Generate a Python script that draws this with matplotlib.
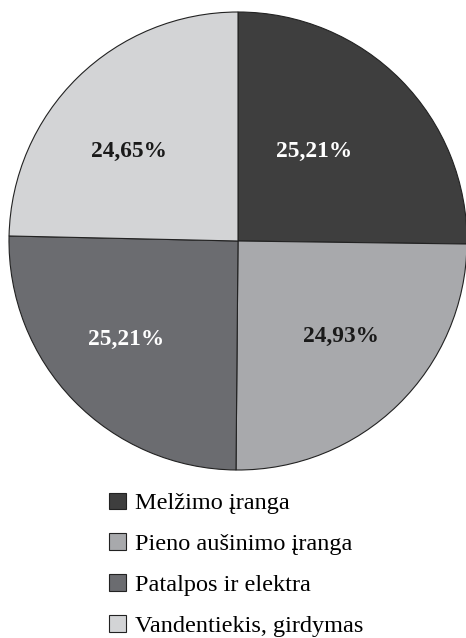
import matplotlib
matplotlib.use("Agg")
import matplotlib.pyplot as plt
from matplotlib.patches import Patch

categories = ["Melžimo įranga", "Pieno aušinimo įranga", "Patalpos ir elektra", "Vandentiekis, girdymas"]
shares = [25.21, 24.93, 25.21, 24.65]
colors = ["#3e3e3e", "#a8a9ac", "#6b6c70", "#d3d4d6"]
label_colors = ["white", "#1a1a1a", "white", "#1a1a1a"]

# where each percentage label sits, in pie-radius units
label_xy = [(0.334, 0.39), (0.450, -0.415), (-0.489, -0.43), (-0.478, 0.39)]

plt.rcParams["font.family"] = ["Liberation Serif", "DejaVu Serif"]

W, H = 466, 638
fig = plt.figure(figsize=(W / 100, H / 100), dpi=100)
# pie centred at (238, 241) px with radius 229 px
cx, cy, r = 238, 241, 229
ax = fig.add_axes([(cx - r) / W, (H - cy - r) / H, 2 * r / W, 2 * r / H])
wedges, texts, autotexts = ax.pie(
    shares, colors=colors, startangle=90, counterclock=False,
    autopct=lambda p: f"{p:.2f}%".replace(".", ","),
    pctdistance=0.59, radius=1.0, frame=False,
    wedgeprops=dict(edgecolor="#222222", linewidth=0.8),
    textprops=dict(fontsize=16.8, fontweight="bold"),
)
for t, c, xy in zip(autotexts, label_colors, label_xy):
    t.set_color(c)
    t.set_position(xy)
ax.set_xlim(-1, 1)
ax.set_ylim(-1, 1)
ax.set_aspect("equal")
ax.set_axis_off()

handles = [Patch(facecolor=c, edgecolor="#222222", linewidth=0.8) for c in colors]
fig.legend(handles, categories, loc="upper left", bbox_to_anchor=(0.234, 0.228),
           frameon=False, fontsize=17.5, handlelength=0.68, handleheight=0.68,
           handletextpad=0.4, labelspacing=0.78, borderpad=0, borderaxespad=0)

fig.savefig("out.png", dpi=100)
